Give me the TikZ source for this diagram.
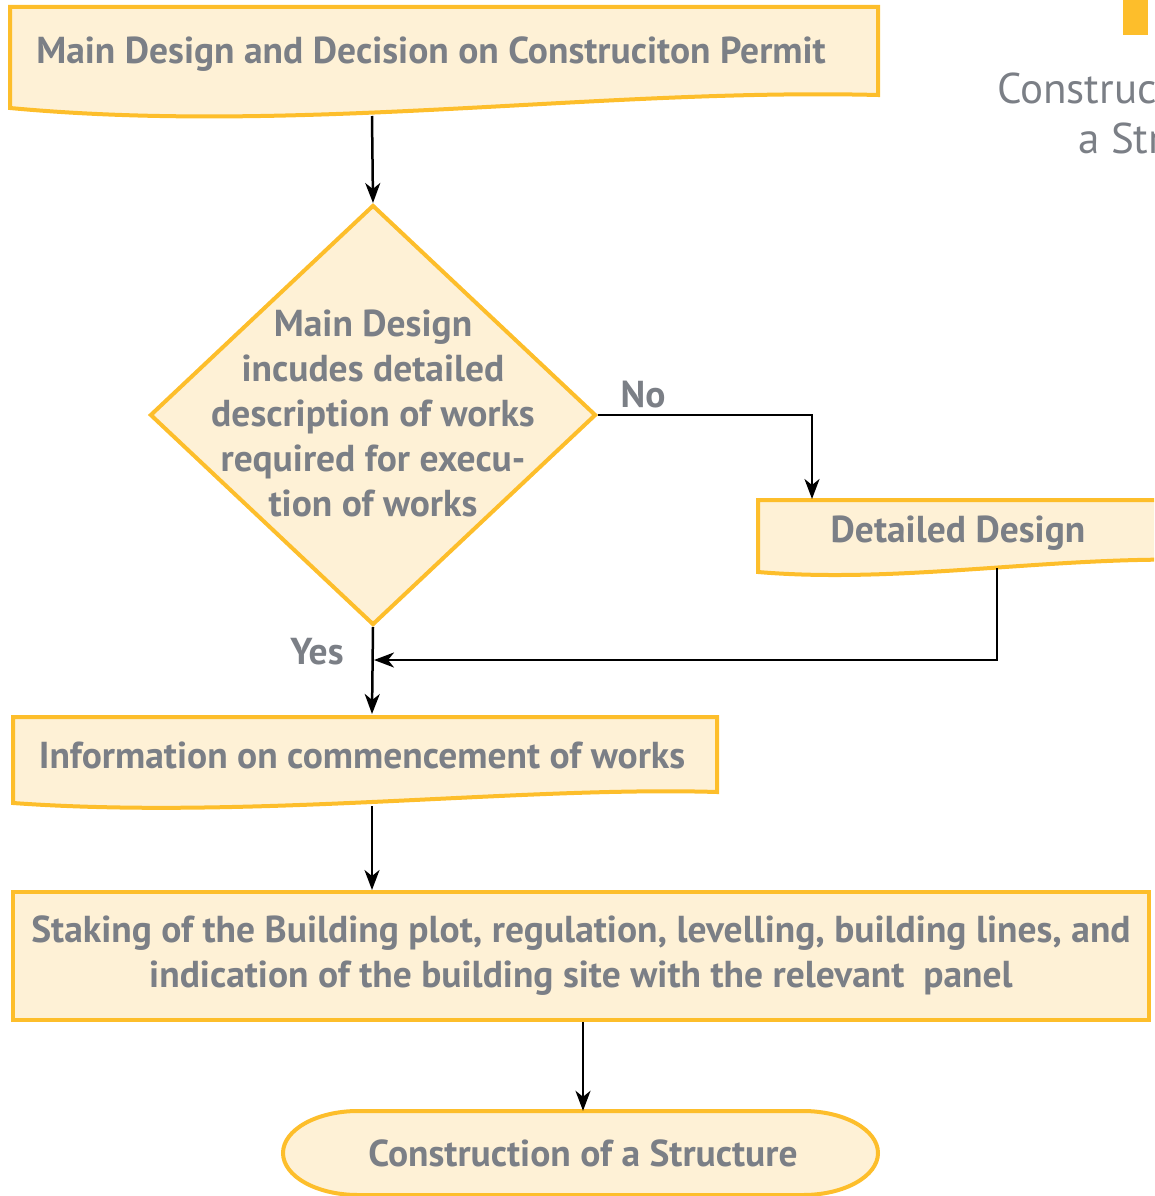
\documentclass[tikz,border=0pt]{standalone}
\usepackage{fontspec}
\setmainfont{PT Sans}
\usetikzlibrary{arrows.meta,shapes.geometric,backgrounds}
\definecolor{bord}{HTML}{FDBE2B}
\definecolor{fillc}{HTML}{FEF1D6}
\definecolor{txt}{HTML}{7B7F86}
\begin{document}
\begin{tikzpicture}[x=1pt,y=-1pt,
  shapeline/.style={draw=bord,fill=fillc,line width=4pt,line join=miter},
  lbl/.style={text=txt,font=\bfseries\fontsize{37.5}{45}\selectfont,align=center,inner sep=0pt},
  ttl/.style={text=txt,font=\fontsize{43}{50}\selectfont,inner sep=0pt,anchor=west},
  conn/.style={draw=black,line width=2.5pt,-{Stealth[length=20pt,width=15pt,inset=6pt]}}]
\useasboundingbox (0,0) rectangle (1154,1196);
\clip (0,0) rectangle (1154,1196);

% top-right partial title
\fill[bord] (1123,-2) rectangle (1148,35);
\node[ttl] (ttl1) at (997,88) {Construction of};
\node[ttl] (ttl2) at (1078,138) {a Structure};

% box 1 (document shape)
\path[shapeline] (10,7) -- (878,7) -- (878,95) .. controls (600,88) and (300,135) .. (10,108) -- cycle;
\node[lbl] (top) at (431,54) {Main Design and Decision on Construciton Permit};
\coordinate (topout) at (372,116);

% decision
\node[diamond,shapeline,minimum width=446pt,minimum height=420pt,inner sep=0pt] (dec) at (373,415) {};
\node[lbl] (dectext) at (373,413) {Main Design\\incudes detailed\\description of works\\required for execu-\\tion of works};
\node[lbl] (no) at (643,395) {No};
\node[lbl] (yes) at (317,652) {Yes};

% detailed design (document shape, cut at right)
\path[shapeline] (758,500) -- (1200,500) -- (1200,560) .. controls (1050,556) and (900,584) .. (758,572) -- cycle;
\node[lbl] (dd) at (958,533) {Detailed Design};
\coordinate (ddin) at (812,499);
\coordinate (ddout) at (997,568);
\coordinate (join) at (374,660);

% information (document shape)
\path[shapeline] (13,717) -- (717,717) -- (717,792) .. controls (520,786) and (250,820) .. (13,803) -- cycle;
\node[lbl] (info) at (362,755) {Information on commencement of works};
\coordinate (infoin) at (372,714);
\coordinate (infoout) at (372,806);

% staking
\node[shapeline,lbl,minimum width=1136pt,minimum height=128pt] (stake) at (581,956)
  {Staking of the Building plot, regulation, levelling, building lines, and\\indication of the building site with the relevant\ \ panel};

% terminal
\path[shapeline] (358,1111) -- (803,1111) arc[start angle=-90,end angle=90,x radius=75,y radius=42]
  -- (358,1195) arc[start angle=90,end angle=270,x radius=75,y radius=42] -- cycle;
\node[lbl,minimum width=595pt,minimum height=84pt] (term) at (583,1153) {Construction of a Structure};

% connectors
\draw[conn] (topout) -- (dec.north);
\draw[conn] (dec.east) -| (ddin);
\draw[conn] (ddout) |- (join);
\draw[conn] (dec.south) -- (infoin);
\draw[conn] (infoout) -- (infoout |- stake.north);
\draw[conn] (stake.south -| term.north) -- (term.north);
\end{tikzpicture}
\end{document}
